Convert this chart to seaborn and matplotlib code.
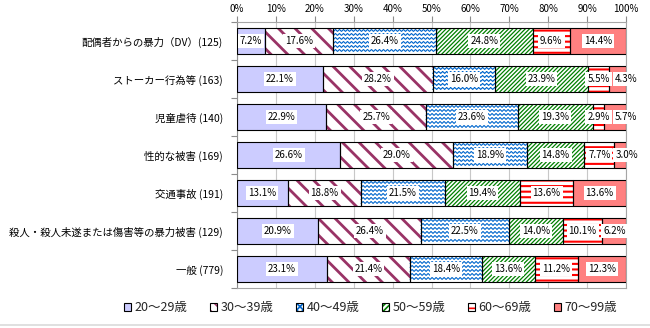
import numpy as np
import pandas as pd
import matplotlib
matplotlib.use("Agg")
import matplotlib.pyplot as plt
import seaborn as sns
from matplotlib.patches import Patch
from matplotlib.legend_handler import HandlerTuple
from matplotlib.lines import Line2D

# ---- data -----------------------------------------------------------------
categories = [
    "配偶者からの暴力（DV）(125)",
    "ストーカー行為等 (163)",
    "児童虐待 (140)",
    "性的な被害 (169)",
    "交通事故 (191)",
    "殺人・殺人未遂または傷害等の暴力被害 (129)",
    "一般 (779)",
]
age_groups = ["20～29歳", "30～39歳", "40～49歳", "50～59歳", "60～69歳", "70～99歳"]

age_20s = [7.2, 22.1, 22.9, 26.6, 13.1, 20.9, 23.1]
age_30s = [17.6, 28.2, 25.7, 29.0, 18.8, 26.4, 21.4]
age_40s = [26.4, 16.0, 23.6, 18.9, 21.5, 22.5, 18.4]
age_50s = [24.8, 23.9, 19.3, 14.8, 19.4, 14.0, 13.6]
age_60s = [9.6, 5.5, 2.9, 7.7, 13.6, 10.1, 11.2]
age_70s = [14.4, 4.3, 5.7, 3.0, 13.6, 6.2, 12.3]
series = [age_20s, age_30s, age_40s, age_50s, age_60s, age_70s]

x_ticks = [0, 10, 20, 30, 40, 50, 60, 70, 80, 90, 100]

# ---- styles ---------------------------------------------------------------
styles = [
    dict(face="#CCCCFF", hatch=None, hcolor=None, hlw=None),
    dict(face="white", hatch="\\" * 2, hcolor="#993366", hlw=2.0),
    dict(face="white", hatch="wave", hcolor="#0066CC", hlw=None),
    dict(face="white", hatch="/" * 8, hcolor="#008000", hlw=0.9),
    dict(face="white", hatch="-" * 3, hcolor="#FF0000", hlw=1.5),
    dict(face="#FF8080", hatch=None, hcolor=None, hlw=None),
]

sns.set_theme(style="white")
plt.rcParams["font.family"] = ["Noto Sans CJK JP", "DejaVu Sans"]

W, H = 650, 328
fig = plt.figure(figsize=(W / 100, H / 100), dpi=100)
ax_l, ax_r, ax_t, ax_b = 237, 626, 22, 288
ax = fig.add_axes([ax_l / W, 1 - ax_b / H, (ax_r - ax_l) / W, (ax_b - ax_t) / H])

df = pd.DataFrame({"category": categories})
for g, vals in zip(age_groups, series):
    df[g] = vals

n_cat = len(categories)
bar_w = 0.66
px_x = 100 / (ax_r - ax_l)
px_y = n_cat / (ax_b - ax_t)

left = np.zeros(n_cat)
labels_by_row = [[] for _ in range(n_cat)]
for gi, (g, st) in enumerate(zip(age_groups, styles)):
    vals = df[g].to_numpy()
    start = len(ax.patches)
    kws = dict(data=df, x=g, y="category", order=categories, width=bar_w,
               errorbar=None, ax=ax, left=left.copy(), zorder=1)
    if st["hatch"] is None or st["hatch"] == "wave":
        sns.barplot(color=st["face"], facecolor=st["face"], edgecolor="none",
                    linewidth=0, **kws)
    else:
        with plt.rc_context({"hatch.linewidth": st["hlw"]}):
            sns.barplot(color=st["face"], facecolor=st["face"],
                        edgecolor=st["hcolor"], hatch=st["hatch"],
                        linewidth=0, **kws)
    bars = ax.patches[start:]
    for p in bars:
        if st["hlw"] is not None and hasattr(p, "set_hatch_linewidth"):
            p.set_hatch_linewidth(st["hlw"])
    if st["hatch"] == "wave":
        # zigzag wave fill, clipped to each bar
        for p in bars:
            x0, x1 = p.get_x(), p.get_x() + p.get_width()
            y0, y1 = sorted([p.get_y(), p.get_y() + p.get_height()])
            xs = np.arange(x0, x1 + px_x, 0.5 * px_x)
            zig = np.abs(((xs - x0) / px_x) % 4 - 2) - 1
            for yy in np.arange(y0 + 2 * px_y, y1, 4 * px_y):
                ax.plot(xs, yy + zig * px_y, color=st["hcolor"], lw=0.8,
                        clip_path=p, zorder=1.5, solid_joinstyle="miter")
    # black outline of each segment
    sns.barplot(fill=False, color="black", linewidth=0.8,
                **{**kws, "zorder": 3})
    for i, v in enumerate(vals):
        t = ax.text(left[i] + v / 2, i, f"{v:.1f}%", ha="center", va="center",
                    fontsize=7, color="black", zorder=5, clip_on=False,
                    bbox=dict(boxstyle="square,pad=0.2", fc="white", ec="none"))
        labels_by_row[i].append(t)
    left = left + vals

# ---- axes styling ---------------------------------------------------------
ax.set_xlim(0, 100)
ax.set_ylim(n_cat - 0.5, -0.5)
ax.set_xlabel("")
ax.set_ylabel("")
ax.xaxis.tick_top()
ax.set_xticks(x_ticks)
ax.set_xticklabels([f"{t}%" for t in x_ticks])
ax.tick_params(axis="x", top=True, bottom=False, length=4, width=0.8,
               color="#8C8C8C", pad=1.5, labelsize=7, labelcolor="black")
ax.set_yticks(range(n_cat))
ax.set_yticklabels(categories)
ax.set_yticks(np.arange(-0.5, n_cat, 1), minor=True)
ax.tick_params(axis="y", which="major", length=0, pad=10, labelsize=7.5,
               labelcolor="black")
ax.tick_params(axis="y", which="minor", left=True, length=4, width=0.8,
               color="#8C8C8C")
ax.grid(axis="x", color="#C8C8C8", linewidth=0.8, zorder=0)
ax.set_axisbelow(True)
for s in ax.spines.values():
    s.set_visible(True)
    s.set_color("#A6A6A6")
    s.set_linewidth(0.8)
ax.spines["left"].set_color("#8C8C8C")
ax.set_facecolor("white")

# ---- legend ---------------------------------------------------------------
legend_hatches = [None, "\\\\\\", "xxxxx", "//////", "---", None]
with plt.rc_context({"hatch.linewidth": 1.2}):
    handles = []
    for st, lh in zip(styles, legend_hatches):
        if lh is None:
            handles.append(Patch(facecolor=st["face"], edgecolor="black",
                                 linewidth=0.8))
        else:
            handles.append((Patch(facecolor="white", edgecolor=st["hcolor"],
                                  hatch=lh, linewidth=0),
                            Patch(facecolor="none", edgecolor="black",
                                  linewidth=0.8)))
    fig.legend(handles, age_groups, loc="center",
               bbox_to_anchor=(0.57, 1 - 308 / H),
               ncol=6, frameon=False, fontsize=9, handlelength=0.6,
               handleheight=0.6, handletextpad=0.25, columnspacing=1.8,
               borderaxespad=0,
               handler_map={tuple: HandlerTuple(ndivide=1, pad=0)})

# thin frame line along the bottom edge
fig.add_artist(Line2D([0, 1], [1 - 325 / H] * 2, transform=fig.transFigure,
                      color="#DADADA", linewidth=1.2))

# ---- nudge overlapping value labels apart ---------------------------------
fig.canvas.draw()
renderer = fig.canvas.get_renderer()
for row in labels_by_row:
    for a, b in zip(row[:-1], row[1:]):
        ea = a.get_bbox_patch().get_window_extent(renderer)
        eb = b.get_bbox_patch().get_window_extent(renderer)
        overlap = ea.x1 + 1 - eb.x0
        if overlap > 0:
            x, y = b.get_position()
            b.set_position((x + overlap * px_x, y))
            fig.canvas.draw()

fig.savefig("out.png", dpi=100, facecolor="white")
